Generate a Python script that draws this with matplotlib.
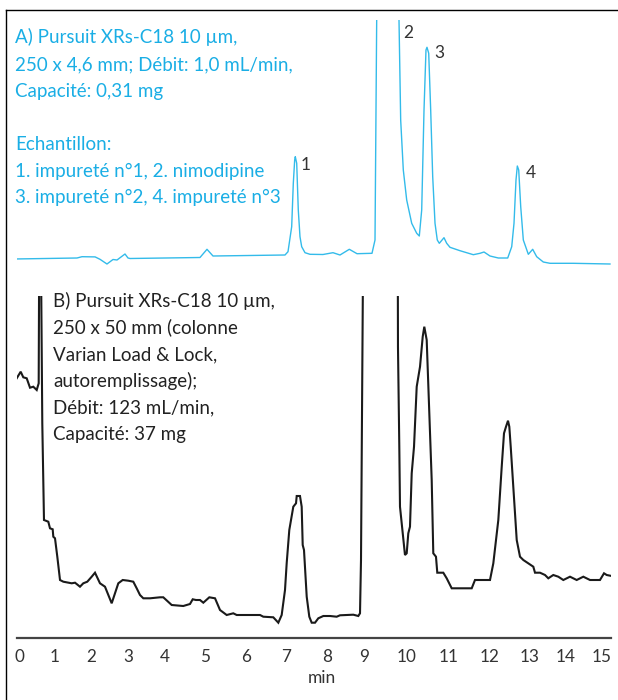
import numpy as np
import matplotlib
matplotlib.use("Agg")
import matplotlib.pyplot as plt
from matplotlib.lines import Line2D

plt.rcParams['font.family'] = ['Lato', 'DejaVu Sans']

# ---------------- data ----------------
tick_minutes = list(range(16))
tick_labels = [str(m) for m in tick_minutes]

# Chromatogram A (analytical, cyan) : retention time (min), signal (a.u.)
A_time = [-0.139, 1.611, 1.750, 2.111, 2.243, 2.432, 2.595, 2.703, 2.919, 3.000,
          3.054, 4.864, 5.037, 5.185, 6.963, 7.037, 7.128, 7.168, 7.202, 7.217,
          7.252, 7.291, 7.333, 7.375, 7.457, 7.580, 7.900, 8.162, 8.351, 8.603,
          8.811, 9.186, 9.256, 9.295, 9.400, 9.700, 9.814, 9.853, 9.914, 9.993,
          10.112, 10.231, 10.293, 10.350, 10.405, 10.452, 10.476, 10.517, 10.564, 10.612,
          10.667, 10.721, 10.769, 10.881, 10.945, 11.024, 11.268, 11.593, 11.756, 11.854,
          12.000, 12.208, 12.443, 12.543, 12.600, 12.650, 12.683, 12.718, 12.768, 12.833,
          12.958, 13.075, 13.186, 13.369, 13.556, 14.203, 15.222]
A_signal = [0.50, 0.60, 0.73, 0.71, 0.47, 0.00, 0.45, 0.40, 1.00, 0.60,
            0.55, 0.65, 1.47, 0.80, 0.90, 1.23, 3.73, 8.07, 10.40, 10.73,
            10.07, 5.40, 2.73, 1.73, 1.13, 0.97, 0.95, 1.13, 0.90, 1.47,
            1.03, 1.07, 2.40, 24.4, 45.0, 45.0, 24.4, 14.40, 9.40, 6.40,
            4.07, 3.07, 2.80, 5.40, 15.40, 21.40, 21.67, 21.07, 15.40, 8.73,
            4.07, 2.40, 2.07, 2.63, 2.07, 1.67, 1.33, 0.93, 1.07, 1.20,
            0.80, 0.60, 0.60, 1.73, 4.07, 8.40, 9.80, 9.40, 5.73, 2.40,
            0.97, 1.47, 0.73, 0.20, 0.07, 0.07, 0.00]

# Chromatogram B (preparative, black)
B_time = [-0.064, 0.047, 0.119, 0.214, 0.306, 0.397, 0.492, 0.547, 0.564, 0.603,
          0.647, 0.694, 0.814, 0.861, 0.936, 0.953, 1.000, 1.064, 1.139, 1.231,
          1.369, 1.464, 1.556, 1.694, 1.786, 1.897, 2.019, 2.108, 2.243, 2.378,
          2.468, 2.559, 2.649, 2.738, 2.857, 3.008, 3.143, 3.235, 3.324, 3.414,
          3.595, 3.865, 3.954, 4.165, 4.451, 4.617, 4.684, 4.765, 4.864, 4.946,
          5.094, 5.235, 5.358, 5.523, 5.686, 5.770, 6.346, 6.427, 6.674, 6.798,
          6.881, 6.963, 7.005, 7.069, 7.168, 7.235, 7.252, 7.333, 7.375, 7.400,
          7.432, 7.499, 7.563, 7.622, 7.704, 7.785, 7.909, 8.081, 8.262, 8.351,
          8.711, 8.846, 8.892, 8.919, 8.981, 9.784, 9.790, 9.821, 9.837, 9.900,
          9.953, 9.993, 10.031, 10.071, 10.112, 10.167, 10.231, 10.310, 10.374, 10.412,
          10.469, 10.531, 10.564, 10.588, 10.626, 10.690, 10.721, 10.864, 10.945, 11.066,
          11.554, 11.634, 12.000, 12.083, 12.208, 12.293, 12.350, 12.400, 12.450, 12.483,
          12.518, 12.583, 12.668, 12.750, 12.833, 12.958, 13.092, 13.139, 13.278, 13.417,
          13.508, 13.647, 13.786, 13.925, 14.111, 14.297, 14.481, 14.667, 14.944, 15.056,
          15.131, 15.269]
B_signal = [24.67, 25.33, 24.77, 24.67, 23.73, 23.83, 23.50, 24.17, 40.0, 40.0,
            20.17, 10.50, 10.33, 9.67, 9.57, 8.83, 8.67, 6.83, 4.50, 4.33,
            4.23, 4.17, 4.23, 3.83, 4.17, 4.33, 4.83, 5.23, 4.17, 3.83,
            3.00, 2.17, 3.17, 4.17, 4.50, 4.43, 4.33, 3.67, 3.00, 2.67,
            2.67, 2.77, 2.77, 2.00, 1.90, 2.10, 2.57, 2.50, 2.50, 2.23,
            2.77, 2.67, 1.50, 1.00, 1.17, 1.00, 1.00, 0.83, 0.77, 0.23,
            1.00, 3.50, 6.20, 9.50, 11.83, 12.17, 12.90, 12.90, 11.83, 8.00,
            7.50, 2.83, 0.83, 0.23, 0.23, 0.67, 0.90, 0.90, 0.83, 0.97,
            1.03, 0.90, 1.17, 6.50, 40.0, 40.0, 27.83, 17.83, 11.83, 9.17,
            7.00, 7.17, 9.17, 9.83, 15.17, 17.83, 23.83, 25.83, 28.83, 29.83,
            28.50, 21.17, 17.00, 14.50, 7.17, 6.83, 5.23, 5.23, 4.67, 3.67,
            3.67, 4.50, 4.50, 6.17, 10.50, 15.83, 19.17, 19.83, 20.43, 19.83,
            17.83, 13.83, 8.50, 6.83, 6.50, 6.17, 5.83, 5.23, 5.23, 5.00,
            4.67, 5.00, 4.83, 4.50, 4.83, 4.50, 4.83, 4.50, 4.50, 5.17,
            5.00, 4.90]

peak_labels = ['1', '2', '3', '4']
peak_label_time = [7.48, 10.02, 10.77, 13.02]
peak_label_signal = [9.9, 23.1, 21.1, 9.1]

text_A = ["A) Pursuit XRs-C18 10 µm,",
          "250 x 4,6 mm; Débit: 1,0 mL/min,",
          "Capacité: 0,31 mg",
          "",
          "Echantillon:",
          "1. impureté n°1, 2. nimodipine",
          "3. impureté n°2, 4. impureté n°3"]
text_B = ["B) Pursuit XRs-C18 10 µm,",
          "250 x 50 mm (colonne",
          "Varian Load & Lock,",
          "autoremplissage);",
          "Débit: 123 mL/min,",
          "Capacité: 37 mg"]

# ---------------- layout ----------------
W, H = 618, 700
fig = plt.figure(figsize=(W / 100, H / 100), dpi=100)
fig.patch.set_facecolor('white')

# hand-placed, slightly irregular time axis of the original figure
axis_pos = [19, 55, 91, 128, 165, 205.5, 246, 286.5, 327, 364, 407, 449, 490, 530, 566, 602]
M_ext = np.array([-5.0] + tick_minutes + [20.0], dtype=float)
P_ext = np.array([axis_pos[0] - 180] + axis_pos + [axis_pos[-1] + 180], dtype=float)

def fwd(x):
    return np.interp(x, M_ext, P_ext)

def inv(p):
    return np.interp(p, P_ext, M_ext)

x_left, x_right = 17, 611
xlim = (float(inv(x_left)), float(inv(x_right)))

def fig_box(x0, y_top, x1, y_bot):
    return [x0 / W, 1 - y_bot / H, (x1 - x0) / W, (y_bot - y_top) / H]

cyan_text = '#1AAEE5'
cyan_line = '#33BBEA'

# Axes A
axA = fig.add_axes(fig_box(x_left, 20, x_right, 270))
axA.set_xscale('function', functions=(fwd, inv))
axA.plot(A_time, A_signal, color=cyan_line, lw=1.0, solid_joinstyle='round')
axA.set_xlim(*xlim)
axA.set_ylim(-0.6, 24.4)
axA.axis('off')
for lab, t, s in zip(peak_labels, peak_label_time, peak_label_signal):
    axA.text(t, s, lab, ha='center', va='center', fontsize=12.5, color='#333333')

# Axes B
axB = fig.add_axes(fig_box(x_left, 296, x_right, 638.3))
axB.set_xscale('function', functions=(fwd, inv))
axB.plot(B_time, B_signal, color='#1a1a1a', lw=1.5, solid_joinstyle='miter')
axB.set_xlim(*xlim)
axB.set_ylim(-1.33, 32.9)
axB.patch.set_alpha(0)
for s in ['top', 'left', 'right']:
    axB.spines[s].set_visible(False)
axB.spines['bottom'].set_color('#444444')
axB.spines['bottom'].set_linewidth(1.6)
axB.set_yticks([])
axB.set_xticks(tick_minutes)
axB.set_xticklabels(tick_labels)
axB.tick_params(axis='x', length=0, pad=7.5, labelsize=12.3, labelcolor='#333333')
axB.xaxis.set_minor_locator(matplotlib.ticker.NullLocator())
axB.set_xlabel('min', fontsize=12.5, color='#333333', va='baseline')
axB.xaxis.set_label_coords((321.7 - x_left) / (x_right - x_left), -(683.3 - 638.3) / (638.3 - 296))

# Texts
for i, line in enumerate(text_A):
    if line:
        fig.text(15 / W, 1 - (43.3 + 26.7 * i) / H, line, ha='left', va='baseline',
                 fontsize=13.5, color=cyan_text)
for i, line in enumerate(text_B):
    fig.text(53.3 / W, 1 - (306.7 + 26.7 * i) / H, line, ha='left', va='baseline',
             fontsize=13.5, color='#222222')

# Frame (top and left)
fig.add_artist(Line2D([6 / W, 6 / W], [0, 1 - 10 / H], transform=fig.transFigure,
                      color='black', lw=1.0))
fig.add_artist(Line2D([6 / W, 1], [1 - 10 / H, 1 - 10 / H], transform=fig.transFigure,
                      color='black', lw=1.0))

fig.savefig('out.png', dpi=100, facecolor='white')
